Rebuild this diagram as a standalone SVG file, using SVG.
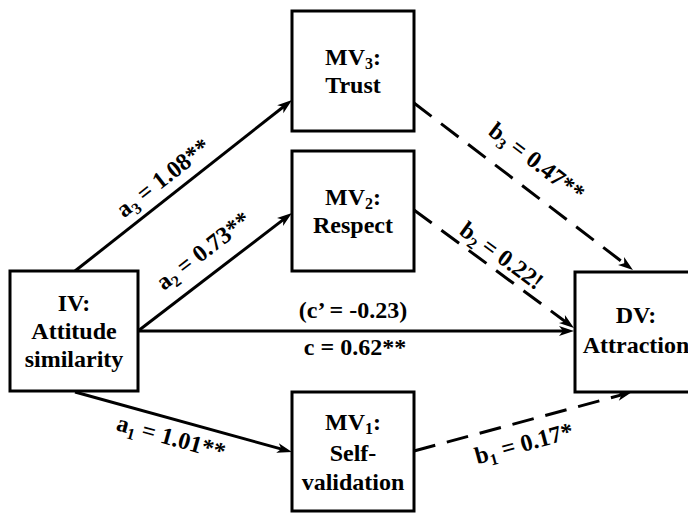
<svg xmlns="http://www.w3.org/2000/svg" width="688" height="514" viewBox="0 0 688 514">
<defs>
<style>
.box{fill:#fff;stroke:#000;stroke-width:3}
.t{font-family:"Liberation Serif","Times New Roman",serif;font-weight:bold;font-size:24px;fill:#000;text-anchor:middle}
.sub{font-size:16px}
.ln{fill:none;stroke:#000;stroke-width:3}
.dash{stroke-dasharray:22 12}
</style>
<marker id="ah" markerUnits="userSpaceOnUse" markerWidth="16" markerHeight="11" refX="9" refY="5" orient="auto" overflow="visible">
<path d="M0,0 L15,5 L0,10 L4,5 z" fill="#000"/>
</marker>
</defs>
<rect width="688" height="514" fill="#fff"/>
<g id="connectors">
<path class="ln" d="M75,271 L287.3,103.7" marker-end="url(#ah)"/>
<path class="ln" d="M138,331 L287.2,216.6" marker-end="url(#ah)"/>
<path class="ln" d="M138,331 L568,331" marker-end="url(#ah)"/>
<path class="ln" d="M75,392 L286.2,450.4" marker-end="url(#ah)"/>
<path class="ln dash" d="M414,103 L628.2,266.4" marker-end="url(#ah)"/>
<path class="ln dash" d="M414,210 L569.2,324.4" marker-end="url(#ah)"/>
<path class="ln dash" d="M414,451 L626.2,393.6" marker-end="url(#ah)"/>
<text class="t" transform="translate(168,184) rotate(-38.2)">a<tspan class="sub" dy="5">3</tspan><tspan dy="-5"> = 1.08**</tspan></text>
<text class="t" transform="translate(208,257) rotate(-37.5)">a<tspan class="sub" dy="5">2</tspan><tspan dy="-5"> = 0.73**</tspan></text>
<text class="t" transform="translate(169,445) rotate(15.5)">a<tspan class="sub" dy="5">1</tspan><tspan dy="-5"> = 1.01**</tspan></text>
<text class="t" transform="translate(532,168) rotate(37.3)">b<tspan class="sub" dy="5">3</tspan><tspan dy="-5"> = 0.47**</tspan></text>
<text class="t" transform="translate(497,262) rotate(36.4)">b<tspan class="sub" dy="5">2</tspan><tspan dy="-5"> = 0.22!</tspan></text>
<text class="t" transform="translate(526,451) rotate(-15.1)">b<tspan class="sub" dy="5">1</tspan><tspan dy="-5"> = 0.17*</tspan></text>
<text class="t" x="353" y="318">(c’ = -0.23)</text>
<text class="t" x="355" y="355">c = 0.62**</text>
</g>
<g id="mv3">
<rect class="box" x="292" y="11" width="122" height="120"/>
<text class="t" x="353" y="65">MV<tspan class="sub" dy="4">3</tspan><tspan dy="-4">:</tspan></text>
<text class="t" x="353" y="93">Trust</text>
</g>
<g id="mv2">
<rect class="box" x="292" y="151" width="122" height="120"/>
<text class="t" x="353" y="205">MV<tspan class="sub" dy="4">2</tspan><tspan dy="-4">:</tspan></text>
<text class="t" x="353" y="233">Respect</text>
</g>
<g id="iv">
<rect class="box" x="10" y="271" width="128" height="120"/>
<text class="t" x="74" y="311">IV:</text>
<text class="t" x="74" y="339">Attitude</text>
<text class="t" x="74" y="367">similarity</text>
</g>
<g id="mv1">
<rect class="box" x="292" y="392" width="122" height="119"/>
<text class="t" x="353" y="430">MV<tspan class="sub" dy="4">1</tspan><tspan dy="-4">:</tspan></text>
<text class="t" x="353" y="461">Self-</text>
<text class="t" x="353" y="490">validation</text>
</g>
<g id="dv">
<rect class="box" x="575" y="272" width="122" height="120"/>
<text class="t" x="636" y="323">DV:</text>
<text class="t" x="636" y="353">Attraction</text>
</g>
</svg>
